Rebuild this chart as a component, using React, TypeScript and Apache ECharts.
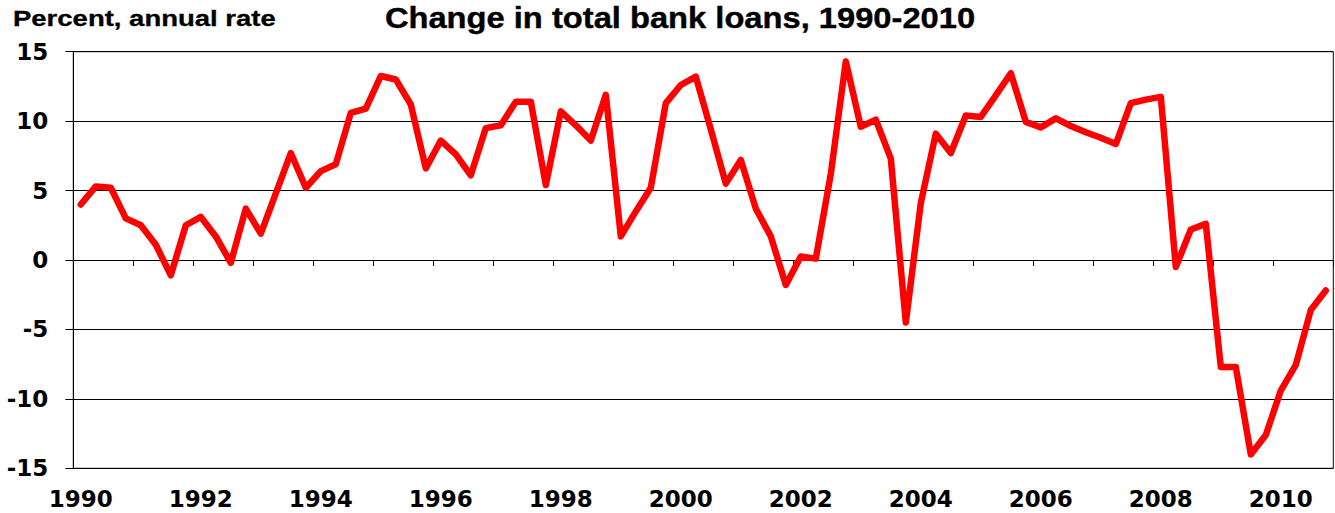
import React, { useEffect, useRef } from "react";
import * as echarts from "echarts";

const years: number[] = [
  1990, 1991, 1992, 1993, 1994, 1995, 1996, 1997, 1998, 1999, 2000,
  2001, 2002, 2003, 2004, 2005, 2006, 2007, 2008, 2009, 2010,
];
const quarterNames: string[] = ["Q1", "Q2", "Q3", "Q4"];
const quarters: string[] = years.flatMap((y) => quarterNames.map((q) => `${y} ${q}`));

// Change in total bank loans, percent at annual rate, quarterly 1990Q1-2010Q4
const loanGrowth: number[] = [
  4.0, 5.3, 5.2, 3.0, 2.5, 1.1, -1.1, 2.5,
  3.1, 1.7, -0.2, 3.7, 1.9, 4.8, 7.7, 5.2,
  6.4, 6.9, 10.6, 10.9, 13.25, 13.0, 11.2, 6.6,
  8.6, 7.6, 6.1, 9.5, 9.7, 11.4, 11.4, 5.4,
  10.7, 9.7, 8.6, 11.9, 1.7, 3.5, 5.2, 11.3,
  12.6, 13.2, 9.4, 5.5, 7.2, 3.7, 1.7, -1.8,
  0.25, 0.1, 6.2, 14.3, 9.6, 10.1, 7.3, -4.5,
  4.1, 9.1, 7.7, 10.4, 10.3, 11.85, 13.45, 9.95,
  9.55, 10.2, 9.65, 9.2, 8.8, 8.35, 11.3, 11.55,
  11.75, -0.5, 2.2, 2.6, -7.7, -7.7, -14.0, -12.6,
  -9.4, -7.55, -3.6, -2.2,
];

const yTicks: number[] = [-15, -10, -5, 0, 5, 10, 15];

const titleText = "Change in total bank loans, 1990-2010";
const unitText = "Percent, annual rate";

export default function App() {
  const ref = useRef<HTMLDivElement>(null);

  useEffect(() => {
    if (!ref.current) return;
    const chart = echarts.init(ref.current, null, { renderer: "svg" });
    const labelFont = {
      fontFamily: "DejaVu Sans",
      fontWeight: "bold" as const,
      fontSize: 23,
      color: "#000",
    };
    chart.setOption({
      animation: false,
      backgroundColor: "#fff",
      graphic: [
        {
          type: "text",
          x: 680,
          y: 18,
          scaleX: 1.09,
          style: {
            text: titleText,
            font: "bold 30px 'Liberation Sans', Arial, sans-serif",
            fill: "#000",
            stroke: "#000",
            lineWidth: 0.4,
            textAlign: "center",
            textVerticalAlign: "middle",
          },
        },
        {
          type: "text",
          x: 13,
          y: 18.5,
          scaleX: 1.25,
          style: {
            text: unitText,
            font: "bold 22px 'Liberation Sans', Arial, sans-serif",
            fill: "#000",
            stroke: "#000",
            lineWidth: 0.3,
            textAlign: "left",
            textVerticalAlign: "middle",
          },
        },
      ],
      grid: {
        left: 73.3,
        right: 1.7,
        top: 51.7,
        bottom: 44.7,
        show: true,
        borderColor: "#000",
        borderWidth: 1,
        containLabel: false,
      },
      xAxis: [
        {
          type: "category",
          data: quarters,
          position: "top",
          boundaryGap: true,
          axisLine: { show: true, onZero: true, lineStyle: { color: "#000", width: 1 } },
          axisTick: {
            show: true,
            interval: 3,
            inside: true,
            length: 6,
            lineStyle: { color: "#000", width: 1 },
          },
          axisLabel: { show: false },
          splitLine: { show: false },
        },
        {
          type: "category",
          data: quarters,
          position: "bottom",
          boundaryGap: true,
          axisLine: { show: false, onZero: false },
          axisTick: { show: false },
          axisLabel: {
            show: true,
            interval: 7,
            margin: 19,
            ...labelFont,
            formatter: (v: string) => v.split(" ")[0],
          },
          splitLine: { show: false },
        },
      ],
      yAxis: {
        type: "value",
        min: yTicks[0],
        max: yTicks[yTicks.length - 1],
        interval: 5,
        axisLine: { show: true, lineStyle: { color: "#000", width: 1 } },
        axisTick: { show: true, length: 8, lineStyle: { color: "#000", width: 1 } },
        axisLabel: { margin: 25, ...labelFont },
        splitLine: { show: true, lineStyle: { color: "#000", width: 1 } },
      },
      series: [
        {
          type: "line",
          xAxisIndex: 0,
          data: loanGrowth,
          symbol: "none",
          lineStyle: { color: "#ff0000", width: 6.5, cap: "round", join: "round" },
          itemStyle: { color: "#ff0000" },
        },
      ],
    });
    return () => chart.dispose();
  }, []);

  return (
    <div
      ref={ref}
      style={{ position: "fixed", left: 0, top: 0, width: 1335, height: 513, background: "#fff" }}
    />
  );
}
